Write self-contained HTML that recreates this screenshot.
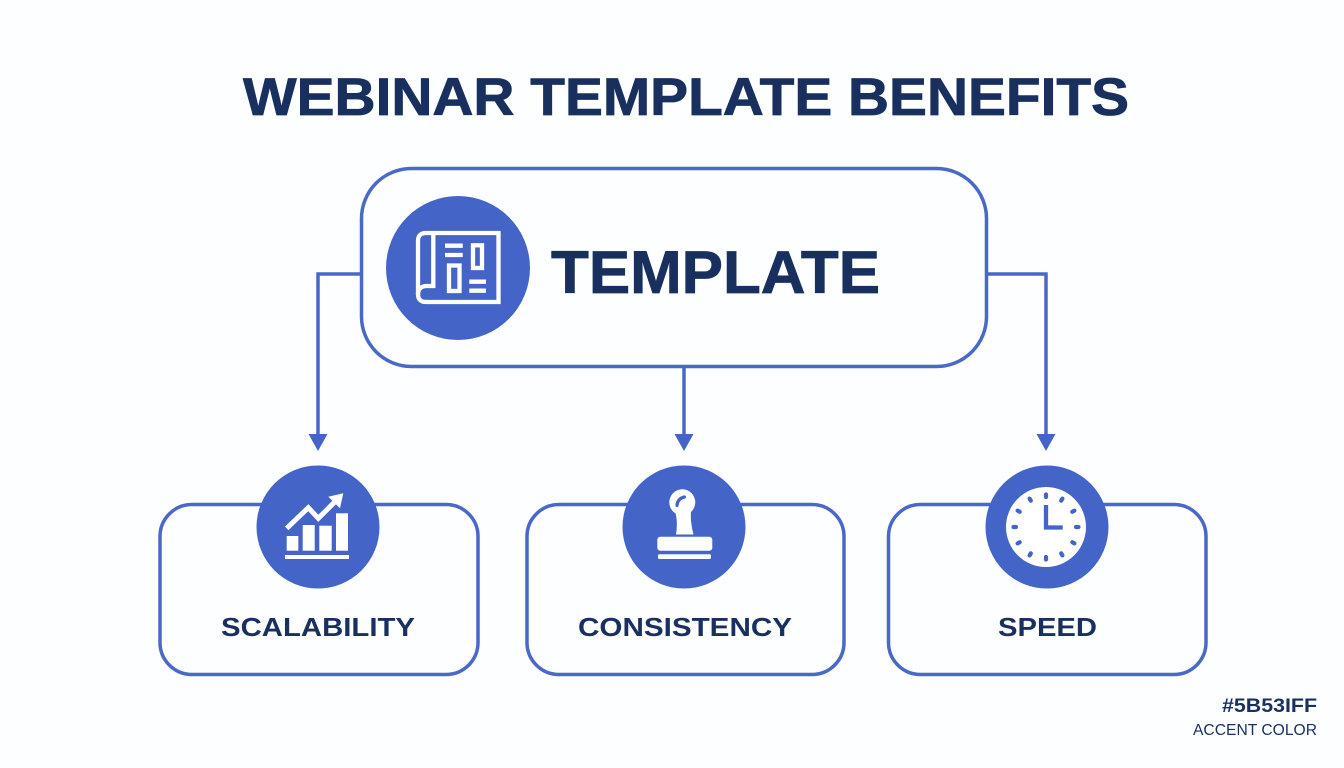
<!DOCTYPE html>
<html>
<head>
<meta charset="utf-8">
<style>
html,body{margin:0;padding:0;background:#fdfeff;}
svg{display:block;}
text{font-family:"Liberation Sans",sans-serif;font-weight:700;text-anchor:start;}
</style>
</head>
<body>
<svg width="1344" height="768" viewBox="0 0 1344 768" xmlns="http://www.w3.org/2000/svg">
<rect width="1344" height="768" fill="#fdfeff"/>
<text x="243" y="115" font-size="53" fill="#19305f" stroke="#19305f" stroke-width="0.8" textLength="886" lengthAdjust="spacingAndGlyphs">WEBINAR TEMPLATE BENEFITS</text>

<g fill="none" stroke="#4a68c6" stroke-width="3.5">
<rect x="361.5" y="168.5" width="625" height="198" rx="50"/>
<rect x="160" y="504.5" width="318" height="170" rx="32"/>
<rect x="527" y="504.5" width="317" height="170" rx="32"/>
<rect x="888.5" y="504.5" width="317.5" height="170" rx="32"/>
<path d="M361 274H318V438M684 367V438M987 274H1046V438"/>
</g>
<g fill="#4564c8">
<path d="M308.500 434H327.500L318 451Z"/>
<path d="M674.500 434H693.500L684 451Z"/>
<path d="M1036.500 434H1055.500L1046 451Z"/>
<circle cx="458" cy="268" r="72"/>
<circle cx="318" cy="527" r="61.500"/>
<circle cx="684" cy="527" r="61.500"/>
<circle cx="1047" cy="527" r="61.500"/>
</g>

<!-- Template icon -->
<g fill="none" stroke="#fff" stroke-width="4.300">
<path d="M498.500 233H426Q418 233 418 241V294Q418 302 426 302H498.500Z"/>
<path d="M433.300 233V286H427Q418 286 418 295"/>
<rect x="449" y="265.500" width="10.500" height="25.500"/>
<rect x="473" y="245.300" width="9" height="22.700"/>
<path d="M445 245.700H462.700M445 255H462.700M469.300 281.700H486M469.300 290.700H486"/>
</g>

<!-- Scalability icon -->
<g fill="#fff">
<rect x="286.700" y="536" width="11.600" height="14.700"/>
<rect x="302.700" y="525" width="12" height="25.700"/>
<rect x="319.300" y="525.700" width="12.400" height="25"/>
<rect x="336" y="513.300" width="12" height="37.400"/>
<rect x="285" y="555" width="64" height="4"/>
<path d="M343.300 493.300L328.300 496.700L340 508.300Z"/>
</g>
<path d="M286.700 528.300L308.300 507.700L318.300 518.300L335 501.700" fill="none" stroke="#fff" stroke-width="5"/>

<!-- Consistency icon -->
<g fill="#fff">
<circle cx="682.300" cy="502.300" r="13"/>
<path d="M675 512C677 517 677.500 525 676 534.500H693.500C691 525 690.500 517 691 512Z"/>
<rect x="657.300" y="536.700" width="55" height="14" rx="3"/>
<rect x="658" y="554.300" width="53" height="4.700" rx="1.500"/>
</g>
<path d="M677 505.500Q677.500 498.500 684.500 497" fill="none" stroke="#4564c8" stroke-width="3.200" stroke-linecap="round"/>

<!-- Speed icon -->
<circle cx="1046" cy="527" r="40" fill="#fff"/>
<path d="M1046 505V527.500H1062.700" fill="none" stroke="#4564c8" stroke-width="4.300"/>
<g stroke="#4564c8" stroke-width="4.200" stroke-linecap="round">
<path d="M1046 494.500V497"/>
<path d="M1062.400 498.600L1061.200 500.700"/>
<path d="M1074.400 510.600L1072.300 511.800"/>
<path d="M1078.500 527H1076"/>
<path d="M1074.400 543.400L1072.300 542.200"/>
<path d="M1062.400 555.400L1061.200 553.300"/>
<path d="M1046 559.500V557"/>
<path d="M1029.600 555.400L1030.800 553.300"/>
<path d="M1017.600 543.400L1019.700 542.200"/>
<path d="M1013.500 527H1016"/>
<path d="M1017.600 510.600L1019.700 511.800"/>
<path d="M1029.600 498.600L1030.800 500.700"/>
</g>

<text x="551" y="293" font-size="60" fill="#19305f" stroke="#19305f" stroke-width="0.800" textLength="329" lengthAdjust="spacingAndGlyphs">TEMPLATE</text>
<text x="221" y="636" font-size="26" fill="#19305f" textLength="194" lengthAdjust="spacingAndGlyphs">SCALABILITY</text>
<text x="578" y="636" font-size="26" fill="#19305f" textLength="214" lengthAdjust="spacingAndGlyphs">CONSISTENCY</text>
<text x="998" y="636" font-size="26" fill="#19305f" textLength="99" lengthAdjust="spacingAndGlyphs">SPEED</text>
<text x="1222" y="712" font-size="19" fill="#19305f" textLength="95" lengthAdjust="spacingAndGlyphs">#5B53IFF</text>
<text x="1193" y="735" font-size="16" fill="#19305f" style="font-weight:400" textLength="124" lengthAdjust="spacingAndGlyphs">ACCENT COLOR</text>
</svg>
</body>
</html>
